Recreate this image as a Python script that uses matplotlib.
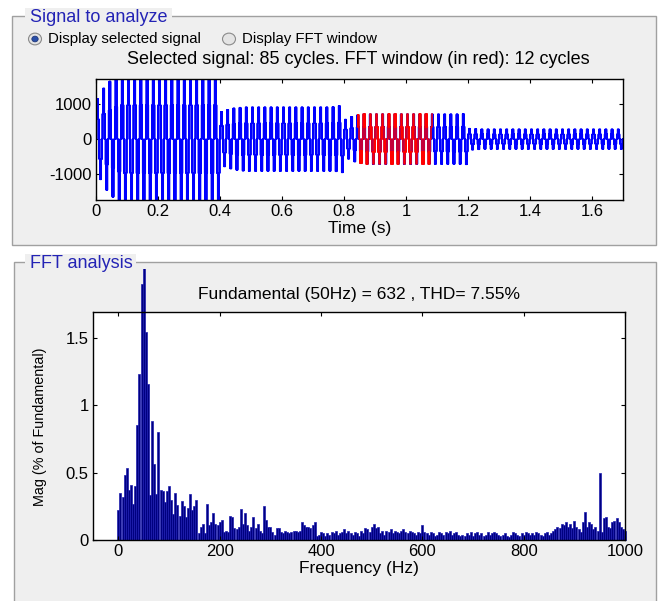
import numpy as np
import matplotlib
matplotlib.use("Agg")
import matplotlib.pyplot as plt
from matplotlib.patches import Rectangle, Circle
from matplotlib.transforms import Bbox, TransformedBbox

plt.rcParams['font.family'] = ['Liberation Sans', 'DejaVu Sans']
plt.rcParams['axes.unicode_minus'] = False

# ---------------- data ----------------
# time signal: 85 cycles of 50 Hz, per-cycle peak amplitude
cycle_period = 0.02
cycle_amp = [1150, 1450, 1650, 1850, 1950, 1950, 1950, 1950, 1950, 1950,
             1950, 1950, 1950, 1950, 1950, 1950, 1950, 1950, 1950, 1950,
             780, 840, 880, 900, 910, 910, 910, 910, 910, 910,
             910, 910, 910, 910, 910, 910, 910, 910, 920, 950,
             560, 640, 690, 710, 710, 710, 710, 710, 710, 710,
             710, 710, 710, 710, 710, 710, 710, 710, 710, 720,
             300, 290, 280, 280, 280, 280, 280, 280, 280, 280,
             280, 280, 280, 280, 280, 280, 280, 280, 280, 280,
             280, 280, 280, 280, 280]
# normalised stepped (multilevel) waveform shape within one cycle
cycle_shape = [0, 0.5, 0, 0.5, 0.5, 1, 0.5, 1, 1, 1,
               1, 1, 0.5, 1, 0.5, 0.5, 0, 0.5, 0, 0,
               0, -0.5, 0, -0.5, -0.5, -1, -0.5, -1, -1, -1,
               -1, -1, -0.5, -1, -0.5, -0.5, 0, -0.5, 0, 0]
fft_window = [0.845, 1.085]   # seconds (red)

# FFT bars: magnitude (% of fundamental), resolution 1/(12 cycles) = 4.1667 Hz
freq_step = 50.0 / 12
mag = [0.22, 0.35, 0.32, 0.48, 0.53, 0.37, 0.41, 0.27, 0.40, 0.85,
       1.23, 1.90, 100.0, 1.54, 1.16, 0.33, 0.88, 0.56, 0.34, 0.80,
       0.37, 0.36, 0.28, 0.36, 0.40, 0.30, 0.19, 0.35, 0.26, 0.18,
       0.29, 0.25, 0.17, 0.24, 0.34, 0.22, 0.25, 0.30, 0.05, 0.10,
       0.12, 0.05, 0.27, 0.11, 0.13, 0.20, 0.12, 0.11, 0.13, 0.15,
       0.06, 0.07, 0.06, 0.18, 0.17, 0.09, 0.08, 0.10, 0.23, 0.12,
       0.20, 0.11, 0.07, 0.10, 0.17, 0.09, 0.12, 0.07, 0.05, 0.25,
       0.15, 0.10, 0.10, 0.06, 0.04, 0.09, 0.09, 0.06, 0.05, 0.07,
       0.06, 0.05, 0.06, 0.07, 0.07, 0.06, 0.07, 0.13, 0.11, 0.10,
       0.10, 0.09, 0.11, 0.13, 0.03, 0.04, 0.06, 0.05, 0.03, 0.05,
       0.04, 0.06, 0.05, 0.07, 0.04, 0.05, 0.06, 0.08, 0.05, 0.07,
       0.05, 0.04, 0.06, 0.05, 0.03, 0.07, 0.05, 0.09, 0.08, 0.06,
       0.10, 0.12, 0.09, 0.10, 0.05, 0.07, 0.04, 0.07, 0.06, 0.08,
       0.05, 0.07, 0.06, 0.05, 0.07, 0.08, 0.06, 0.05, 0.07, 0.06,
       0.05, 0.04, 0.06, 0.05, 0.11, 0.06, 0.05, 0.04, 0.06, 0.05,
       0.03, 0.04, 0.06, 0.05, 0.04, 0.06, 0.05, 0.07, 0.04, 0.05,
       0.06, 0.04, 0.03, 0.04, 0.03, 0.05, 0.04, 0.06, 0.03, 0.05,
       0.06, 0.04, 0.05, 0.03, 0.04, 0.06, 0.04, 0.05, 0.06, 0.05,
       0.04, 0.03, 0.04, 0.05, 0.03, 0.02, 0.04, 0.06, 0.05, 0.04,
       0.03, 0.05, 0.04, 0.06, 0.05, 0.04, 0.05, 0.04, 0.06, 0.05,
       0.04, 0.03, 0.05, 0.06, 0.04, 0.05, 0.07, 0.08, 0.10, 0.09,
       0.12, 0.11, 0.13, 0.10, 0.12, 0.09, 0.14, 0.10, 0.08, 0.06,
       0.13, 0.21, 0.10, 0.13, 0.12, 0.08, 0.10, 0.07, 0.50, 0.06,
       0.16, 0.17, 0.10, 0.09, 0.13, 0.14, 0.16, 0.13, 0.10, 0.08,
       0.07]

W, H = 666, 601
fig = plt.figure(figsize=(W / 100, H / 100), dpi=100, facecolor='white')

def fx(px):
    return px / W

def fy(py):
    return 1 - py / H

panel_col = '#efefef'
border_col = '#a0a0a0'
label_col = '#2323b5'

# panels
for (x0, y0, x1, y1) in [(12, 16, 656, 245), (14, 262, 656, 640)]:
    fig.patches.append(Rectangle((fx(x0), fy(y1)), fx(x1 - x0), (y1 - y0) / H,
                                 transform=fig.transFigure, facecolor=panel_col,
                                 edgecolor=border_col, lw=1.0, zorder=0))
for (x0, x1, yc, txt) in [(25, 172, 17, 'Signal to analyze'), (25, 136, 263, 'FFT analysis')]:
    fig.patches.append(Rectangle((fx(x0), fy(yc + 9)), fx(x1 - x0), 18 / H,
                                 transform=fig.transFigure, facecolor=panel_col,
                                 edgecolor='none', zorder=1))
    fig.text(fx(x0 + 5), fy(yc), txt, color=label_col, fontsize=13,
             va='center', ha='left', zorder=2)

# radio buttons
for (cx, sel, txt) in [(35, True, 'Display selected signal'), (229, False, 'Display FFT window')]:
    fig.patches.append(Circle((fx(cx), fy(39)), 6.5 / W, transform=fig.transFigure,
                              facecolor='#e4e4e4', edgecolor='#8a8a8a', lw=0.8, zorder=2))
    if sel:
        fig.patches.append(Circle((fx(cx), fy(39)), 3.2 / W, transform=fig.transFigure,
                                  facecolor='#2a4fa8', edgecolor='#1a2f70', lw=0.5, zorder=3))
    fig.text(fx(cx + 13), fy(39), txt, fontsize=10.8, va='center', ha='left', zorder=3)

fig.text(fx(358), fy(59), 'Selected signal: 85 cycles. FFT window (in red): 12 cycles',
         fontsize=13, ha='center', va='center', zorder=3)

# ---------------- signal axes ----------------
ax1 = fig.add_axes([fx(96), fy(200), fx(623 - 96), (200 - 79) / H])
n_per = len(cycle_shape)
amp = np.repeat(np.asarray(cycle_amp, float), n_per)
shape = np.tile(np.asarray(cycle_shape, float), len(cycle_amp))
sig = amp * shape
t = np.arange(sig.size) * (cycle_period / n_per)
ax1.plot(t, sig, color='#0000ff', lw=1.1, drawstyle='steps-post')
m = (t >= fft_window[0]) & (t <= fft_window[1])
ax1.plot(t[m], sig[m], color='#ff0000', lw=1.1, drawstyle='steps-post')
ax1.set_xlim(0, 1.7)
ax1.set_ylim(-1740, 1720)
ax1.set_xticks([0, 0.2, 0.4, 0.6, 0.8, 1.0, 1.2, 1.4, 1.6])
ax1.set_xticklabels(['0', '0.2', '0.4', '0.6', '0.8', '1', '1.2', '1.4', '1.6'])
ax1.set_yticks([-1000, 0, 1000])
ax1.set_xlabel('Time (s)', fontsize=12.5, labelpad=1)

# ---------------- FFT axes ----------------
ax2 = fig.add_axes([fx(93), fy(540), fx(625 - 93), (540 - 312) / H])
freqs = np.arange(len(mag)) * freq_step
bars = ax2.bar(freqs, mag, width=freq_step * 0.9, color='#000080',
               edgecolor='#1c1cb0', lw=0.5)
clip = TransformedBbox(Bbox([[0, 0], [1, fy(269)]]), fig.transFigure)
for b in bars:
    b.set_clip_box(clip)
ax2.set_xlim(-50, 1000)
ax2.set_ylim(0, 1.69)
ax2.set_xticks([0, 200, 400, 600, 800, 1000])
ax2.set_yticks([0, 0.5, 1, 1.5])
ax2.set_yticklabels(['0', '0.5', '1', '1.5'])
ax2.set_xlabel('Frequency (Hz)', fontsize=12.5, labelpad=1)
ax2.set_ylabel('Mag (% of Fundamental)', fontsize=10.4, va='center')
ax2.yaxis.set_label_coords(-0.0996, 0.496)
ax2.set_title('Fundamental (50Hz) = 632 , THD= 7.55%', fontsize=12.5, pad=9)

for ax in (ax1, ax2):
    ax.set_zorder(5)
    ax.set_facecolor('white')
    for s in ax.spines.values():
        s.set_linewidth(1.0)
        s.set_color('black')
    ax.tick_params(direction='in', top=True, right=True, length=3, width=0.8,
                   labelsize=12, pad=3)

fig.savefig('out.png', dpi=100, facecolor='white')
